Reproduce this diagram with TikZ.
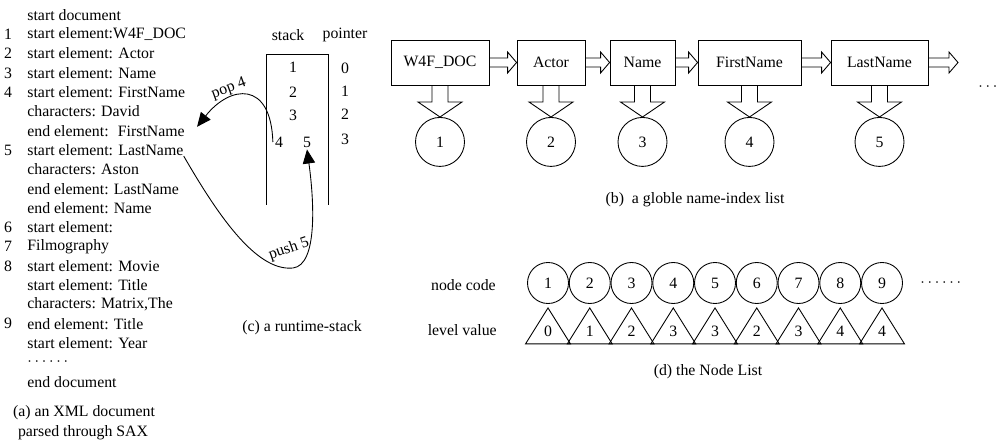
\documentclass[tikz,border=0pt]{standalone}
\usepackage{fontspec}
\setmainfont{Liberation Serif}
\usetikzlibrary{positioning,calc,arrows.meta}

% hollow block arrow to the right, from box #1 to point #2
\newcommand{\rblock}[2]{%
\draw ($(#1.east)+(0,-4.5)$) -- ($(#2)+(-9,-4.5)$) -- ($(#2)+(-9,-10.5)$) -- (#2)
  -- ($(#2)+(-9,10.5)$) -- ($(#2)+(-9,4.5)$) -- ($(#1.east)+(0,4.5)$);}
% hollow block arrow downwards, from box #1 to circle #2
\newcommand{\dblock}[2]{%
\draw ($(#1.south)+(-8,0)$) -- ($(#2.north)+(-8,-15)$) -- ($(#2.north)+(-22,-15)$) -- (#2.north)
  -- ($(#2.north)+(22,-15)$) -- ($(#2.north)+(8,-15)$) -- ($(#1.south)+(8,0)$);}

\begin{document}
\begin{tikzpicture}[x=0.02cm,y=-0.02cm,font=\fontsize{9}{10}\selectfont,line width=0.5pt,
  txt/.style={anchor=west,inner sep=0pt},
  namebox/.style={draw,minimum height=0.9cm,inner sep=0pt},
  idx/.style={draw,circle,minimum size=0.98cm,inner sep=0pt},
  code/.style={draw,circle,minimum size=0.82cm,inner sep=0pt},
  tip/.style={-{Triangle[length=8pt,width=7pt]}}]
\useasboundingbox (0,0) rectangle (1000,442);

% (a) the SAX events
\foreach \num/\txt [count=\i from 0] in {/start document,1/start element:W4F\_DOC,
  2/start element: Actor,3/start element: Name,4/start element: FirstName,
  /characters: David,/end element:~ FirstName,5/start element: LastName,
  /characters: Aston,/end element: LastName,/end element: Name,
  6/start element:,7/Filmography,8/start element: Movie,/start element: Title,
  /{characters: Matrix,The},9/end element: Title,/start element: Year,
  /$\cdots\cdots$,/end document}
{
  \node[txt] (l\i) at (27,{15+19.3*\i}) {\txt};
  \node (n\i) at (8,{15+19.3*\i}) {\num};
}
\node (capa1) at (84,413) {(a) an XML document};
\node (capa2) at (83,433) {parsed through SAX};

% (c) the runtime stack
\node (hs) at (288,35) {stack};
\node (hp) at (345,35) {pointer};
\draw (266,205) -- (266,54) -- (328,54) -- (328,205);
\node[inner sep=1pt] (s1) at (293,67) {1};
\node[inner sep=1pt] (s2) at (293,92) {2};
\node[inner sep=1pt] (s3) at (293,115) {3};
\node[inner sep=1pt] (s4) at (279,142) {4};
\node[inner sep=1pt] (s5) at (307,142) {5};
\node (p0) at (345,68) {0};
\node (p1) at (345,91) {1};
\node (p2) at (345,114) {2};
\node (p3) at (345,139) {3};
\draw[tip] (s4.west) .. controls (271,80) and (230,85) .. ($(l6.east)+(12,-4)$);
\node[rotate=20] (pop) at (229,89) {pop 4};
\draw[tip] (l7.south east) .. controls (215,210) and (255,272) .. (293,268)
  .. controls (318,265) and (314,200) .. (s5.south);
\node[rotate=19] (push) at (289,249) {push 5};
\node (capc) at (302,328) {(c) a runtime-stack};

% (b) the name-index list
\node[namebox,minimum width=1.96cm] (doc) at (440,62.5) {W4F\_DOC};
\node[namebox,minimum width=1.36cm] (actor) at (551,62.5) {Actor};
\node[namebox,minimum width=1.3cm] (name) at (642.5,62.5) {Name};
\node[namebox,minimum width=2.06cm] (first) at (749.5,62.5) {FirstName};
\node[namebox,minimum width=1.94cm] (last) at (879.5,62.5) {LastName};
\coordinate (more) at (958,62.5);
\rblock{doc}{actor.west}
\rblock{actor}{name.west}
\rblock{name}{first.west}
\rblock{first}{last.west}
\rblock{last}{more}
\node[anchor=west,inner sep=0pt] (dotsb) at (978,87) {$\cdots$};
\foreach \b [count=\i] in {doc,actor,name,first,last}
{
  \node[idx] (i\i) at ($(\b.south)+(0,56.5)$) {\i};
  \dblock{\b}{i\i}
}
\node (capb) at (695,200) {(b)~ a globle name-index list};

% (d) the node list
\node[anchor=east] (lc) at (502,285) {node code};
\node[anchor=east] (lv) at (503,330) {level value};
\foreach \v [count=\i] in {0,1,2,3,3,2,3,4,4}
{
  \node[code] (c\i) at ({548+41.75*(\i-1)},283) {\i};
  \draw ($(c\i.south)+(0,4)$) -- ++(22.5,36) -- ++(-45,0) -- cycle;
  \node (v\i) at ($(c\i.south)+(0,27)$) {\v};
}
\node[anchor=west,inner sep=0pt] (dotsd) at (920,283) {$\cdots\cdots$};
\node (capd) at (708,372) {(d) the Node List};
\end{tikzpicture}
\end{document}
